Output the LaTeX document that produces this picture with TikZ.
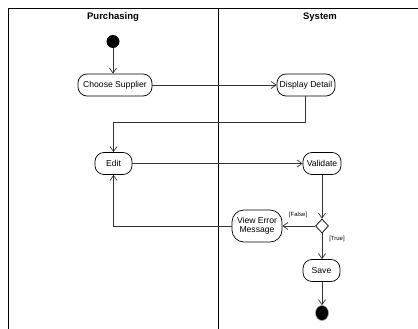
\documentclass[tikz,border=0pt]{standalone}
\usepackage{fontspec}
\setmainfont{Liberation Sans}
\usetikzlibrary{arrows.meta,shapes.geometric}
\begin{document}
\begin{tikzpicture}[x=1pt,y=-1pt,
  act/.style={draw=black,line width=0.7pt,rounded corners=9pt,minimum height=22pt,inner sep=1pt,font=\fontsize{8.6}{9.5}\selectfont,align=center},
  flow/.style={draw=black!80,line width=0.7pt,-{Straight Barb[length=5pt,width=7pt]}},
  lane/.style={draw=black,line width=1pt},
  hdr/.style={font=\fontsize{9.5}{11}\selectfont\bfseries},
  guard/.style={font=\fontsize{6}{7}\selectfont,inner sep=0pt}]
\useasboundingbox (0,0) rectangle (418,329);
% swimlanes
\coordinate (tl) at (8.5,8.5);
\coordinate (tr) at (418,8.5);
\coordinate (bl) at (8.5,329);
\coordinate (mt) at (218,8.5);
\coordinate (mb) at (218,329);
\draw[lane] (bl) -- (tl) -- (tr);
\draw[lane] (mt) -- (mb);
\node[hdr] (h1) at (113,17.5) {Purchasing};
\node[hdr] (h2) at (320,17.5) {System};
% nodes
\node[circle,fill=black,minimum width=13pt,minimum height=13pt,inner sep=0pt] (start) at (113,41.5) {};
\node[act,minimum width=74pt] (choose) at (115,85) {Choose Supplier};
\node[act,minimum width=58pt] (display) at (306,85) {Display Detail};
\node[act,minimum width=37pt] (edit) at (113.5,163.5) {Edit};
\node[act,minimum width=38pt] (validate) at (322,163.5) {Validate};
\node[diamond,draw=black,line width=0.7pt,minimum width=13pt,minimum height=14pt,inner sep=0pt] (dec) at (322,226) {};
\node[act,minimum width=50pt,minimum height=32pt,rounded corners=12pt] (err) at (257,226) {View Error\\Message};
\node[act,minimum width=37pt] (save) at (321.5,270.5) {Save};
\node[ellipse,fill=black,draw=black!35,line width=0.5pt,minimum width=13pt,minimum height=15pt,inner sep=0pt] (end) at (322,313) {};
% labels
\node[guard] (lf) at (298,215) {[False]};
\node[guard] (lt) at (337,239) {[True]};
% connectors
\coordinate (c1) at (305,122);
\coordinate (c2) at (113.5,122);
\coordinate (c3) at (113.5,226);
\draw[flow] (start) -- (choose.north -| start);
\draw[flow] (choose) -- (display);
\draw[flow] (display.south -| c1) -- (c1) -- (c2) -- (edit.north);
\draw[flow] (edit) -- (validate);
\draw[flow] (validate) -- (dec.north);
\draw[flow] (dec.west) -- (err.east);
\draw[flow] (err.west) -- (c3) -- (edit.south);
\draw[flow] (dec.south) -- (save.north -| dec);
\draw[flow] (save.south -| end) -- (end.north);
\end{tikzpicture}
\end{document}
